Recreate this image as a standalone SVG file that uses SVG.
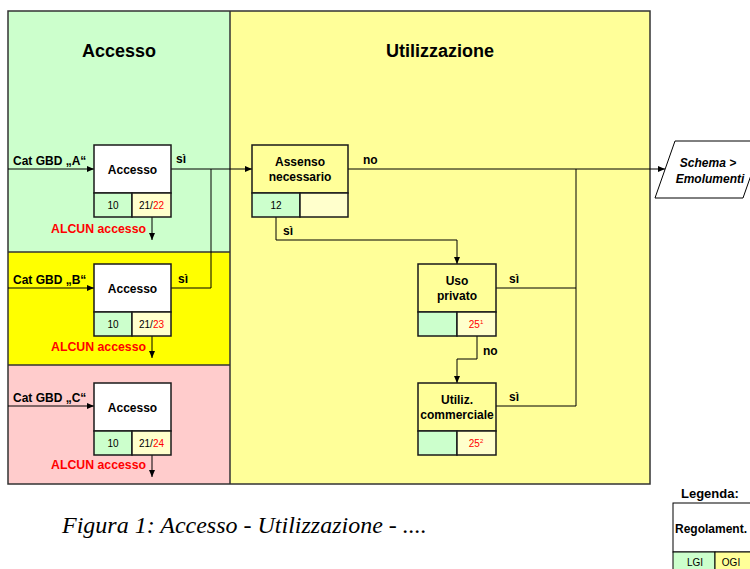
<svg xmlns="http://www.w3.org/2000/svg" width="750" height="569" viewBox="0 0 750 569">
<style>
.b{font-family:"Liberation Sans",Arial,sans-serif;font-weight:bold;fill:#000}
.r{font-family:"Liberation Sans",Arial,sans-serif;fill:#000;font-size:10px}
.red{fill:#FF0000}
.box{stroke:#1a1a1a;stroke-width:1.5}
.ln{fill:none;stroke:#000;stroke-width:1}
.g{fill:#CCFFCC}
.ly{fill:#FFFFCC}
.w{fill:#FFFFFF}
.y{fill:#FFFF99}
</style>
<defs>
<marker id="arr" markerWidth="8" markerHeight="8" refX="7" refY="4" orient="auto" markerUnits="userSpaceOnUse">
<path d="M0,1 L7,4 L0,7 Z" fill="#000"/>
</marker>
</defs>
<rect width="750" height="569" fill="#FFFFFF"/>
<g id="background">
<rect x="8" y="11" width="222" height="241" fill="#CCFFCC"/>
<rect x="8" y="252" width="222" height="113" fill="#FFFF00"/>
<rect x="8" y="365" width="222" height="119" fill="#FFCCCC"/>
<rect x="230" y="11" width="420" height="473" fill="#FFFF99"/>
<g fill="none" stroke="#333" stroke-width="1.5">
<rect x="8" y="11" width="642" height="473"/>
<line x1="230" y1="11" x2="230" y2="484"/>
<line x1="8" y1="252" x2="230" y2="252"/>
<line x1="8" y1="365" x2="230" y2="365"/>
</g>
<text class="b" x="119" y="57" font-size="18" text-anchor="middle">Accesso</text>
<text class="b" x="440" y="57" font-size="18" text-anchor="middle">Utilizzazione</text>
</g>
<g id="connectors">
<line class="ln" x1="8" y1="169" x2="94" y2="169" marker-end="url(#arr)"/>
<line class="ln" x1="8" y1="288" x2="94" y2="288" marker-end="url(#arr)"/>
<line class="ln" x1="8" y1="406" x2="94" y2="406" marker-end="url(#arr)"/>
<line class="ln" x1="171" y1="169" x2="252" y2="169" marker-end="url(#arr)"/>
<polyline class="ln" points="171,288 211,288 211,169"/>
<line class="ln" x1="152" y1="217" x2="152" y2="240" marker-end="url(#arr)"/>
<line class="ln" x1="152" y1="336" x2="152" y2="358" marker-end="url(#arr)"/>
<line class="ln" x1="152" y1="455" x2="152" y2="477" marker-end="url(#arr)"/>
<line class="ln" x1="348" y1="169" x2="665" y2="169" marker-end="url(#arr)"/>
<polyline class="ln" points="276,217 276,240 457,240 457,264" marker-end="url(#arr)"/>
<polyline class="ln" points="477,336 477,359 457,359 457,383" marker-end="url(#arr)"/>
<polyline class="ln" points="496,288 576,288"/>
<polyline class="ln" points="496,406 576,406 576,169"/>
<text class="b" x="13" y="165" font-size="12">Cat GBD „A“</text>
<text class="b" x="13" y="284" font-size="12">Cat GBD „B“</text>
<text class="b" x="13" y="402" font-size="12">Cat GBD „C“</text>
<text class="b" x="176" y="163" font-size="12">sì</text>
<text class="b" x="178" y="283" font-size="12">sì</text>
<text class="b red" x="146" y="233" font-size="12.3" text-anchor="end">ALCUN accesso</text>
<text class="b red" x="146" y="351" font-size="12.3" text-anchor="end">ALCUN accesso</text>
<text class="b red" x="146" y="469" font-size="12.3" text-anchor="end">ALCUN accesso</text>
<text class="b" x="363" y="164" font-size="12">no</text>
<text class="b" x="283" y="235" font-size="12">sì</text>
<text class="b" x="509" y="283" font-size="12">sì</text>
<text class="b" x="483" y="355" font-size="12">no</text>
<text class="b" x="509" y="401" font-size="12">sì</text>
</g>
<g id="accesso-a">
<rect class="box w" x="94" y="145" width="77" height="48"/>
<rect class="box g" x="94" y="193" width="38" height="24"/>
<rect class="box ly" x="132" y="193" width="39" height="24"/>
<text class="b" x="132.5" y="174" font-size="12" text-anchor="middle">Accesso</text>
<text class="r" x="113" y="209" text-anchor="middle">10</text>
<text class="r" x="151.5" y="209" text-anchor="middle">21/<tspan class="red">22</tspan></text>
</g>
<g id="accesso-b">
<rect class="box w" x="94" y="264" width="77" height="48"/>
<rect class="box g" x="94" y="312" width="38" height="24"/>
<rect class="box ly" x="132" y="312" width="39" height="24"/>
<text class="b" x="132.5" y="293" font-size="12" text-anchor="middle">Accesso</text>
<text class="r" x="113" y="328" text-anchor="middle">10</text>
<text class="r" x="151.5" y="328" text-anchor="middle">21/<tspan class="red">23</tspan></text>
</g>
<g id="accesso-c">
<rect class="box w" x="94" y="383" width="77" height="48"/>
<rect class="box g" x="94" y="431" width="38" height="24"/>
<rect class="box ly" x="132" y="431" width="39" height="24"/>
<text class="b" x="132.5" y="412" font-size="12" text-anchor="middle">Accesso</text>
<text class="r" x="113" y="447" text-anchor="middle">10</text>
<text class="r" x="151.5" y="447" text-anchor="middle">21/<tspan class="red">24</tspan></text>
</g>
<g id="assenso">
<rect class="box y" x="252" y="145" width="96" height="48"/>
<rect class="box g" x="252" y="193" width="48" height="24"/>
<rect class="box ly" x="300" y="193" width="48" height="24"/>
<text class="b" x="300" y="166" font-size="12" text-anchor="middle">Assenso</text>
<text class="b" x="300" y="181" font-size="12" text-anchor="middle">necessario</text>
<text class="r" x="276" y="209" text-anchor="middle">12</text>
</g>
<g id="uso-privato">
<rect class="box y" x="418" y="264" width="78" height="48"/>
<rect class="box g" x="418" y="312" width="39" height="24"/>
<rect class="box ly" x="457" y="312" width="39" height="24"/>
<text class="b" x="457" y="285" font-size="12" text-anchor="middle">Uso</text>
<text class="b" x="457" y="300" font-size="12" text-anchor="middle">privato</text>
<text class="r red" x="476" y="328" text-anchor="middle">25<tspan font-size="6" dy="-4">1</tspan></text>
</g>
<g id="utiliz-commerciale">
<rect class="box y" x="418" y="383" width="78" height="48"/>
<rect class="box g" x="418" y="431" width="39" height="24"/>
<rect class="box ly" x="457" y="431" width="39" height="24"/>
<text class="b" x="457" y="404" font-size="12" text-anchor="middle">Utiliz.</text>
<text class="b" x="457" y="419" font-size="12" text-anchor="middle">commerciale</text>
<text class="r red" x="476" y="447" text-anchor="middle">25<tspan font-size="6" dy="-4">2</tspan></text>
</g>
<g id="schema-emolumenti">
<polygon points="675,141 763,141 743,198 655,198" fill="#FFFFFF" stroke="#000" stroke-width="1"/>
<text class="b" x="708" y="167" font-size="12" font-style="italic" text-anchor="middle">Schema &gt;</text>
<text class="b" x="710" y="183" font-size="12" font-style="italic" text-anchor="middle">Emolumenti</text>
</g>
<g id="legenda">
<text class="b" x="681" y="498" font-size="13">Legenda:</text>
<rect class="w" x="673" y="503" width="100" height="49" stroke="#000" stroke-width="1"/>
<rect class="g" x="673" y="552" width="42" height="24" stroke="#000" stroke-width="1"/>
<rect class="y" x="715" y="552" width="58" height="24" stroke="#000" stroke-width="1"/>
<text class="b" x="675" y="533" font-size="12">Regolament.</text>
<text class="r" x="695" y="566" text-anchor="middle">LGI</text>
<text class="r" x="731" y="566" text-anchor="middle">OGI</text>
</g>
<text x="62" y="533" font-family="'Liberation Serif','Times New Roman',serif" font-style="italic" font-size="24" fill="#000">Figura 1: Accesso - Utilizzazione - ....</text>
</svg>
